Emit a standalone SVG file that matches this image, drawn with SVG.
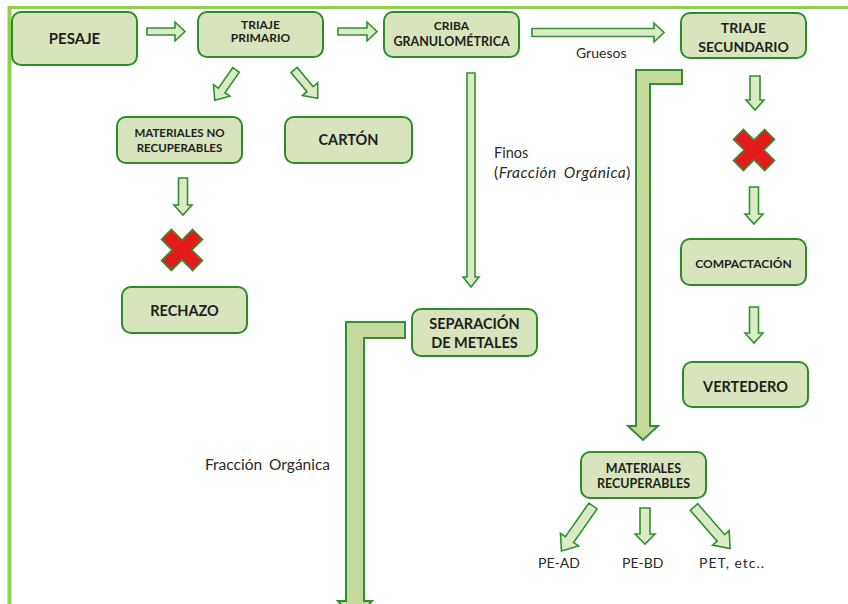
<svg xmlns="http://www.w3.org/2000/svg" width="848" height="604" viewBox="0 0 848 604">
  <style>
    .box { fill: #d8e4bc; stroke: #2e8b2e; stroke-width: 2; }
    .arr { fill: #dcebc6; stroke: #2f922f; stroke-width: 1.6; stroke-linejoin: miter; }
    .big { fill: #c4d99b; stroke: #2f922f; stroke-width: 2; }
    .x { fill: #e41b1b; stroke: #3a8a2e; stroke-width: 1.6; }
    .t { font-family: Lato, "Liberation Sans", sans-serif; font-weight: bold; fill: #1e1e1e; text-anchor: middle; }
    .l { font-family: Lato, "Liberation Sans", sans-serif; fill: #2a2a2a; }
  </style>
  <defs>
    <!-- down-pointing block arrows, origin at tail centre -->
    <polygon id="diag" points="-4,0 4,0 4,25 10,25 0,37 -10,25 -4,25"/>
    <polygon id="diag2" points="-5,0 5,0 5,41 11,41 0,55 -11,41 -5,41"/>
    <polygon id="cross" points="-7,-22 7,-22 7,-7 22,-7 22,7 7,7 7,22 -7,22 -7,7 -22,7 -22,-7 -7,-7"/>
  </defs>

  <!-- page frame -->
  <line x1="8" y1="7.5" x2="848" y2="7.5" stroke="#8fd14f" stroke-width="3"/>
  <line x1="9.5" y1="6" x2="9.5" y2="604" stroke="#8fd14f" stroke-width="4"/>

  <g id="connectors">
    <!-- horizontal flow along the top -->
    <polygon class="arr" points="147,28 175,28 175,22 185,31.5 175,41 175,35 147,35"/>
    <polygon class="arr" points="338,28 367,28 367,22 377,31.5 367,41 367,35 338,35"/>
    <polygon class="arr" points="532,28.5 654,28.5 654,23 664,32.5 654,42 654,36.5 532,36.5"/>
    <!-- triaje primario branches -->
    <use href="#diag" class="arr" transform="translate(236,70) rotate(35)"/>
    <use href="#diag" class="arr" transform="translate(294,70) rotate(-40)"/>
    <!-- rejected materials -->
    <polygon class="arr" points="178.5,178 187.5,178 187.5,205 192,205 183,215 174,205 178.5,205"/>
    <!-- finos -->
    <polygon class="arr" points="467,73 475,73 475,277 479,277 471,287 463,277 467,277"/>
    <!-- secondary sorting column -->
    <polygon class="arr" points="750,76 760,76 760,100 764,100 755,110 746,100 750,100"/>
    <polygon class="arr" points="749.5,187 758.5,187 758.5,214 763,214 754,224 745,214 749.5,214"/>
    <polygon class="arr" points="749.5,307 758.5,307 758.5,333 763,333 754,343 745,333 749.5,333"/>
    <!-- gruesos to recoverable materials -->
    <polygon class="big" points="682,70 636,70 636,426 628,426 643,440 658,426 650,426 650,84 682,84"/>
    <!-- organic fraction out of metal separation -->
    <polygon class="big" points="405,322 346,322 346,601 338,601 355,620 372,601 364,601 364,338 405,338"/>
    <!-- recoverable material outputs -->
    <use href="#diag2" class="arr" transform="translate(593,506) rotate(35)"/>
    <polygon class="arr" points="640,508 650,508 650,534 655,534 645,544 635,534 640,534"/>
    <use href="#diag2" class="arr" transform="translate(694,507) rotate(-41)"/>
  </g>

  <g id="pesaje">
    <rect class="box" x="12" y="12" width="125" height="53" rx="9"/>
    <text class="t" x="74.5" y="44" font-size="15">PESAJE</text>
  </g>
  <g id="triaje-primario">
    <rect class="box" x="198" y="12" width="125" height="45" rx="9"/>
    <text class="t" x="260.5" y="28.5" font-size="12">TRIAJE</text>
    <text class="t" x="260.5" y="42" font-size="12">PRIMARIO</text>
  </g>
  <g id="criba">
    <rect class="box" x="384" y="12" width="135" height="45" rx="9"/>
    <text class="t" x="451.5" y="30" font-size="12">CRIBA</text>
    <text class="t" x="451.5" y="45.5" font-size="12.5">GRANULOMÉTRICA</text>
  </g>
  <g id="triaje-secundario">
    <rect class="box" x="681" y="13" width="125" height="45" rx="9"/>
    <text class="t" x="743.5" y="33" font-size="14">TRIAJE</text>
    <text class="t" x="743.5" y="52" font-size="14">SECUNDARIO</text>
  </g>
  <g id="no-recuperables">
    <rect class="box" x="117" y="117" width="125" height="46" rx="9"/>
    <text class="t" x="179.5" y="137" font-size="11.5">MATERIALES NO</text>
    <text class="t" x="179.5" y="152" font-size="11.5">RECUPERABLES</text>
  </g>
  <g id="carton">
    <rect class="box" x="285" y="117" width="127" height="46" rx="9"/>
    <text class="t" x="348.5" y="145" font-size="14.5">CARTÓN</text>
  </g>
  <g id="rechazo-x">
    <use href="#cross" class="x" transform="translate(182,250) rotate(45)"/>
  </g>
  <g id="rechazo">
    <rect class="box" x="122" y="287" width="125" height="46" rx="9"/>
    <text class="t" x="184.5" y="316" font-size="14.5">RECHAZO</text>
  </g>
  <g id="separacion">
    <rect class="box" x="412" y="309" width="125" height="47" rx="9"/>
    <text class="t" x="474.5" y="329" font-size="14.5">SEPARACIÓN</text>
    <text class="t" x="474.5" y="348" font-size="14.5">DE METALES</text>
  </g>
  <g id="secundario-x">
    <use href="#cross" class="x" transform="translate(754,150) rotate(45)"/>
  </g>
  <g id="compactacion">
    <rect class="box" x="681" y="239" width="125" height="46" rx="9"/>
    <text class="t" x="743.5" y="268" font-size="12">COMPACTACIÓN</text>
  </g>
  <g id="vertedero">
    <rect class="box" x="683" y="362" width="125" height="45" rx="9"/>
    <text class="t" x="745.5" y="392" font-size="14.5">VERTEDERO</text>
  </g>
  <g id="recuperables">
    <rect class="box" x="581" y="452" width="125" height="46" rx="9"/>
    <text class="t" x="643.5" y="473" font-size="12.5">MATERIALES</text>
    <text class="t" x="643.5" y="488" font-size="12.5">RECUPERABLES</text>
  </g>

  <g id="labels">
    <text class="l" x="576" y="58" font-size="14">Gruesos</text>
    <text class="l" x="494" y="158" font-size="14.5">Finos</text>
    <text class="l" x="494" y="178" font-size="15.5" word-spacing="3" letter-spacing="0.5">(<tspan font-style="italic">Fracción Orgánica</tspan>)</text>
    <text class="l" x="205" y="470" font-size="15.5" word-spacing="3">Fracción Orgánica</text>
    <text class="l" x="538" y="568" font-size="14">PE-AD</text>
    <text class="l" x="622" y="568" font-size="14">PE-BD</text>
    <text class="l" x="699" y="568" font-size="14" letter-spacing="1">PET, etc..</text>
  </g>
</svg>
